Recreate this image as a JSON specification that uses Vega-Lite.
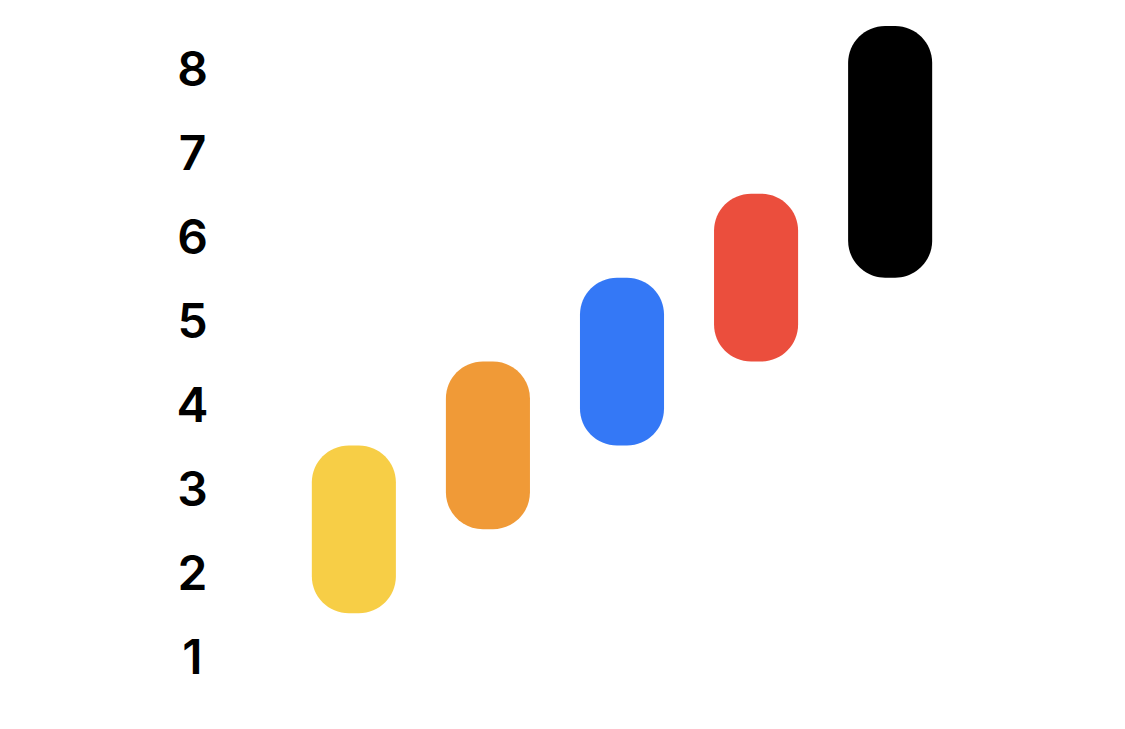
{
  "$schema": "https://vega.github.io/schema/vega-lite/v6.json",
  "autosize": "none",
  "width": 800,
  "height": 671,
  "padding": {"left": 222, "top": 26, "right": 103, "bottom": 32},
  "background": "white",
  "config": {"view": {"stroke": null}},
  "data": {
    "values": [
      {"item": "A", "low": 1.5, "high": 3.5, "color": "#F7CE46"},
      {"item": "B", "low": 2.5, "high": 4.5, "color": "#F09A37"},
      {"item": "C", "low": 3.5, "high": 5.5, "color": "#3478F6"},
      {"item": "D", "low": 4.5, "high": 6.5, "color": "#EB4E3D"},
      {"item": "E", "low": 5.5, "high": 8.5, "color": "#000000"}
    ]
  },
  "mark": {"type": "bar", "cornerRadius": 37},
  "encoding": {
    "x": {
      "field": "item",
      "type": "nominal",
      "scale": {"paddingInner": 0.373, "paddingOuter": 0.67},
      "axis": null
    },
    "y": {
      "field": "low",
      "type": "quantitative",
      "scale": {"domain": [0.5, 8.5], "nice": false, "zero": false},
      "axis": {
        "values": [1, 2, 3, 4, 5, 6, 7, 8],
        "domain": false,
        "ticks": false,
        "grid": false,
        "title": null,
        "labelFont": "Inter",
        "labelFontSize": 48,
        "labelFontWeight": 600,
        "labelColor": "#000000",
        "labelAlign": "center",
        "labelPadding": 30,
        "labelOffset": 4
      }
    },
    "y2": {"field": "high"},
    "color": {"field": "color", "type": "nominal", "scale": null, "legend": null}
  }
}
